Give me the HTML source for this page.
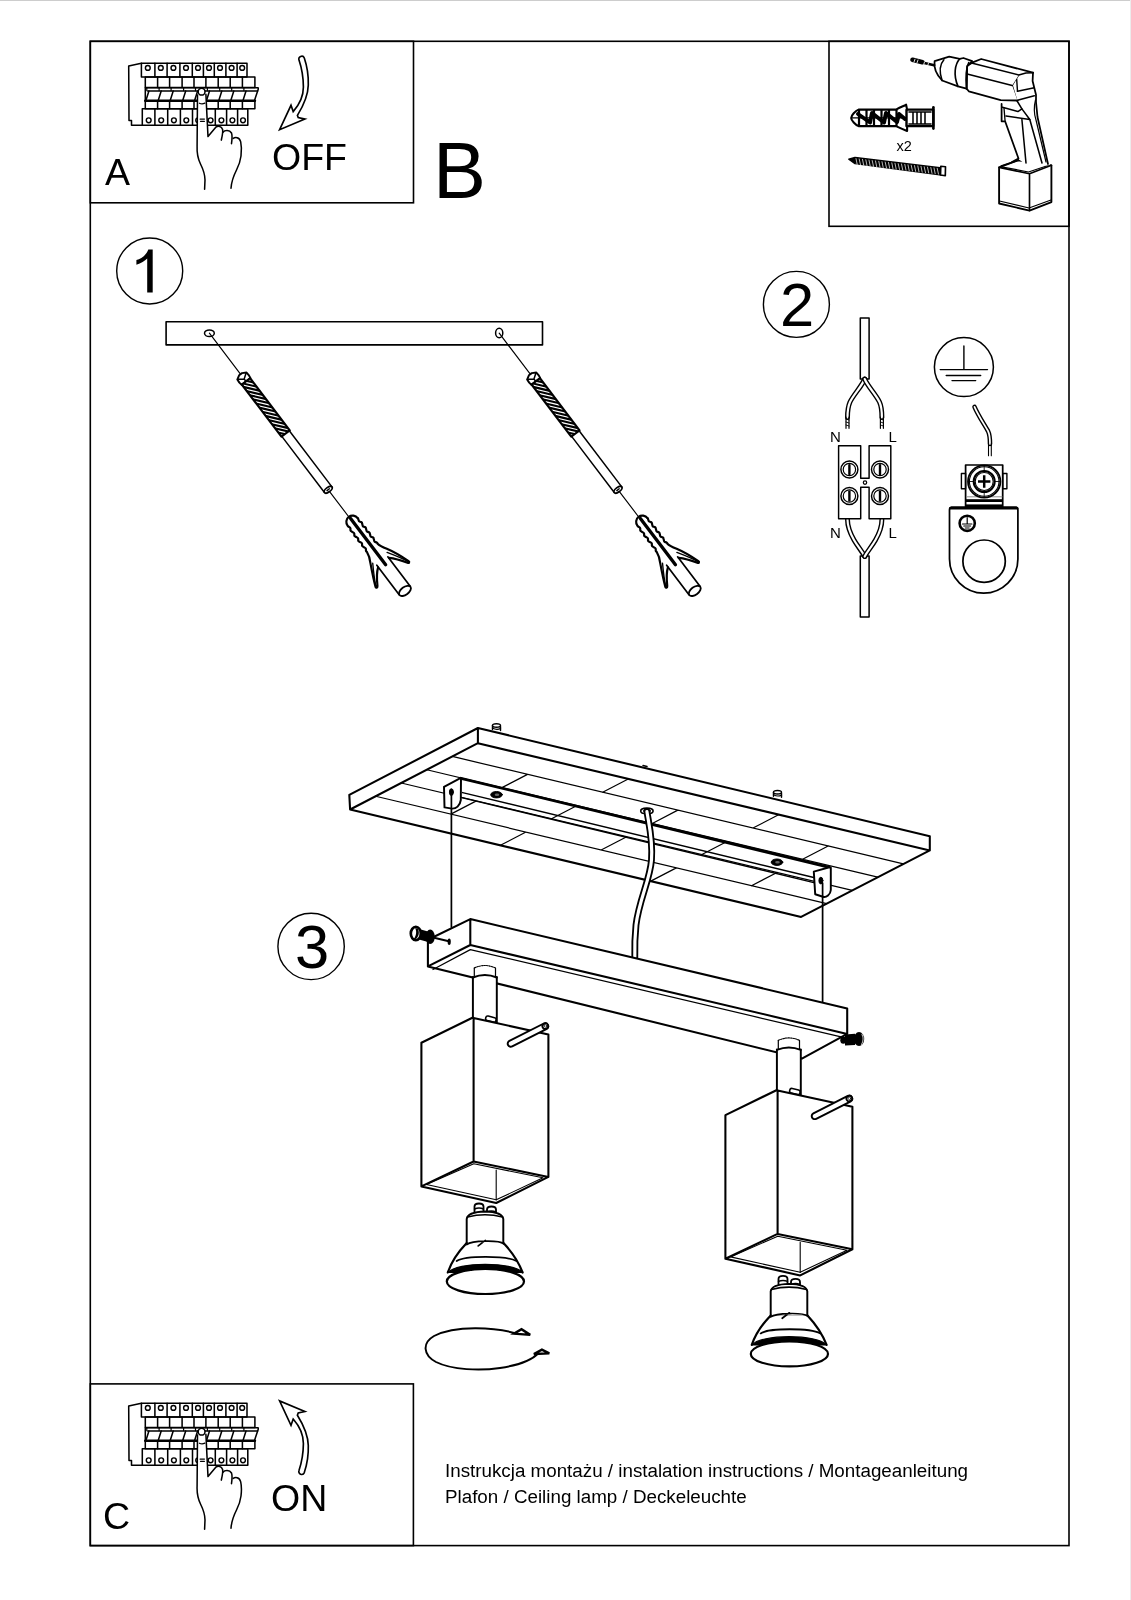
<!DOCTYPE html>
<html><head><meta charset="utf-8">
<style>
html,body{margin:0;padding:0;background:#fff;width:1131px;height:1600px;overflow:hidden}
svg{display:block;position:absolute;left:0;top:0;will-change:transform}
text{font-family:"Liberation Sans",sans-serif;fill:#000}
</style></head><body>
<svg width="1131" height="1600" viewBox="0 0 1131 1600">
<rect x="0" y="0" width="1131" height="1" fill="#cdcdcd"/>
<rect x="1130" y="0" width="1" height="1600" fill="#ececec"/>
<g fill="none" stroke="#000" stroke-width="1.6">
<rect x="90.3" y="41.3" width="978.7" height="1504.3"/>
<rect x="90.3" y="41.3" width="323.2" height="161.5"/>
<rect x="829" y="41.3" width="240" height="185"/>
<rect x="90.3" y="1383.9" width="323.1" height="161.7"/>
</g>
<g fill="none" stroke="#000" stroke-width="1.4">
<circle cx="149.7" cy="271" r="33"/>
<circle cx="796.4" cy="304.4" r="33"/>
<circle cx="311.1" cy="946.4" r="33.2"/>
</g>
<text x="105" y="185.3" font-size="37.5">A</text>
<text x="272" y="170" font-size="37.5">OFF</text>
<text x="433" y="197.5" font-size="79.4">B</text>
<path d="M152.7,249.5 L148.3,249.5 C146.5,255 141,259 136.4,260 L136.4,264.8 C141,263.5 144.8,261 147.2,258.5 L147.2,292.5 L152.7,292.5 Z" fill="#000"/>
<text x="780" y="325.9" font-size="61.5">2</text>
<text x="295" y="968.3" font-size="61.5">3</text>
<text x="103" y="1528.5" font-size="37.5">C</text>
<text x="271" y="1510.7" font-size="37.5">ON</text>
<text x="445" y="1477.2" font-size="18.8">Instrukcja montażu / instalation instructions / Montageanleitung</text>
<text x="445" y="1502.5" font-size="18.8">Plafon / Ceiling lamp / Deckeleuchte</text>
<g id="brk" fill="none" stroke="#000" stroke-width="1.53" stroke-linejoin="round" stroke-linecap="round">
<path d="M141.4,63.3 L128.7,66 L129,120.5 L131.5,120.5 L131.5,125.3 L142.3,125.3"/>
<rect x="141.4" y="63.3" width="105.60" height="13.7" fill="#fff"/>
<path d="M154.9,63.3 L154.9,77"/>
<path d="M167.1,63.3 L167.1,77"/>
<path d="M179.9,63.3 L179.9,77"/>
<path d="M192.3,63.3 L192.3,77"/>
<path d="M203.4,63.3 L203.4,77"/>
<path d="M214.3,63.3 L214.3,77"/>
<path d="M225.9,63.3 L225.9,77"/>
<path d="M237.1,63.3 L237.1,77"/>
<circle cx="147.8" cy="67.9" r="2.4" stroke-width="1.42"/>
<circle cx="160.8" cy="67.9" r="2.4" stroke-width="1.42"/>
<circle cx="173.4" cy="67.9" r="2.4" stroke-width="1.42"/>
<circle cx="186.0" cy="67.9" r="2.4" stroke-width="1.42"/>
<circle cx="198.0" cy="67.9" r="2.4" stroke-width="1.42"/>
<circle cx="209.0" cy="67.9" r="2.4" stroke-width="1.42"/>
<circle cx="220.0" cy="67.9" r="2.4" stroke-width="1.42"/>
<circle cx="231.6" cy="67.9" r="2.4" stroke-width="1.42"/>
<circle cx="242.2" cy="67.9" r="2.4" stroke-width="1.42"/>
<rect x="145.3" y="77" width="109.6" height="10.5"/>
<path d="M157.6,77 L157.6,87.5"/>
<path d="M169.6,77 L169.6,87.5"/>
<path d="M182.1,77 L182.1,87.5"/>
<path d="M194.0,77 L194.0,87.5"/>
<path d="M205.9,77 L205.9,87.5"/>
<path d="M218.2,77 L218.2,87.5"/>
<path d="M230.2,77 L230.2,87.5"/>
<path d="M242.4,77 L242.4,87.5"/>
<path d="M145.3,87.7 L258.1,87.7 L258.3,89 L254.4,100.7 M145.3,87.7 L145.3,100.7"/>
<path d="M147.5,90.9 L257.6,90.9" />
<path d="M145.90,100.5 L148.90,91"/>
<path d="M146.80,88.2 L146.80,90.6" stroke-width="1.18"/>
<path d="M158.20,100.5 L161.20,91"/>
<path d="M159.10,88.2 L159.10,90.6" stroke-width="1.18"/>
<path d="M170.20,100.5 L173.20,91"/>
<path d="M171.10,88.2 L171.10,90.6" stroke-width="1.18"/>
<path d="M182.70,100.5 L185.70,91"/>
<path d="M183.60,88.2 L183.60,90.6" stroke-width="1.18"/>
<path d="M194.60,100.5 L197.60,91"/>
<path d="M195.50,88.2 L195.50,90.6" stroke-width="1.18"/>
<path d="M206.50,100.5 L209.50,91"/>
<path d="M207.40,88.2 L207.40,90.6" stroke-width="1.18"/>
<path d="M218.80,100.5 L221.80,91"/>
<path d="M219.70,88.2 L219.70,90.6" stroke-width="1.18"/>
<path d="M230.80,100.5 L233.80,91"/>
<path d="M231.70,88.2 L231.70,90.6" stroke-width="1.18"/>
<path d="M243.00,100.5 L246.00,91"/>
<path d="M243.90,88.2 L243.90,90.6" stroke-width="1.18"/>
<path d="M145.3,100.8 L254.9,100.8" stroke-width="2.60"/>
<rect x="145.3" y="100.8" width="109.6" height="8"/>
<path d="M157.6,100.8 L157.6,108.8"/>
<path d="M169.6,100.8 L169.6,108.8"/>
<path d="M182.1,100.8 L182.1,108.8"/>
<path d="M194.0,100.8 L194.0,108.8"/>
<path d="M205.9,100.8 L205.9,108.8"/>
<path d="M218.2,100.8 L218.2,108.8"/>
<path d="M230.2,100.8 L230.2,108.8"/>
<path d="M242.4,100.8 L242.4,108.8"/>
<rect x="142.3" y="108.8" width="105.5" height="16.5"/>
<path d="M154.9,108.8 L154.9,125.3"/>
<path d="M167.7,108.8 L167.7,125.3"/>
<path d="M180.4,108.8 L180.4,125.3"/>
<path d="M192.5,108.8 L192.5,125.3"/>
<path d="M203.6,108.8 L203.6,125.3"/>
<path d="M215.3,108.8 L215.3,125.3"/>
<path d="M226.6,108.8 L226.6,125.3"/>
<path d="M237.6,108.8 L237.6,125.3"/>
<circle cx="148.7" cy="120.3" r="2.4" stroke-width="1.42"/>
<circle cx="161.2" cy="120.3" r="2.4" stroke-width="1.42"/>
<circle cx="173.9" cy="120.3" r="2.4" stroke-width="1.42"/>
<circle cx="186.3" cy="120.3" r="2.4" stroke-width="1.42"/>
<circle cx="198.2" cy="120.3" r="2.4" stroke-width="1.42"/>
<circle cx="210.6" cy="120.3" r="2.4" stroke-width="1.42"/>
<circle cx="221.4" cy="120.3" r="2.4" stroke-width="1.42"/>
<circle cx="232.4" cy="120.3" r="2.4" stroke-width="1.42"/>
<circle cx="243.0" cy="120.3" r="2.4" stroke-width="1.42"/>
<path fill="#fff" d="M197.5,95 L197.1,146.3 C196.8,153 197.5,158 200.5,164 C203,169 205,174 205,180 L204.6,189.2 L231,188.3 C231.5,182 233.5,177 236.5,171 C240,164 241.3,158 241.2,150 C241,144 240.5,138 236.5,137.5 C234.5,137.2 233.5,138 233.2,138.4 C232,131 229,130 227.5,130.3 C225,130.6 223.5,131.5 223,132 C222.5,127 220,126 218.5,126.2 C217,126.3 216,127 216,127 L208.0,136.6 L205.9,94.2 Z" stroke="none"/>
<path d="M197.5,95 L197.1,146.3 C196.8,153 197.5,158 200.5,164 C203,169 205,174 205,180 L204.6,189.2"/>
<path d="M205.9,94.2 L208.0,136.6 L216,127 C218,125.8 221.5,125.8 222.6,129.5 C223.2,132 222.2,136 221.3,140.1"/>
<path d="M223,132.2 C224.5,130.2 229.5,129.5 231.5,133 C232.5,135.5 232,140 231.5,143.7"/>
<path d="M233.2,138.4 C235,137 239.5,136.8 240.7,141.9 C241.6,146 241.5,152 241.0,156 C240.3,162 238.5,166 236.5,170 C234,175 231.5,180 231,188.3"/>
<circle cx="201.6" cy="91.7" r="3.4" fill="#fff"/>
<path d="M199.4,103.2 Q202,104.6 204.8,103.2" stroke-width="1.30"/>
<path d="M200.1,119.1 L204.4,119.1 M200.5,121.3 L204.4,121.3" stroke-width="1.30"/>
</g>
<path id="arrOFF" fill="none" stroke="#000" stroke-width="1.65" stroke-linejoin="miter" d="M299,60.1 C301,66 303.3,75 303.4,87 C303.4,97 299,105 293.2,111.6 L291,105.3 L279.6,129.7 L304.9,119.1 L298.2,117.6 L297.4,115.4 C302,108 308,98 308.3,85 C308.6,75 307,66 304.3,58 A2.8,2.8 0 0 0 299,60.1 Z"/>
<use href="#brk" transform="translate(0,1340)"/>
<use href="#arrOFF" transform="translate(0,1530.6) scale(1,-1)"/>
<g fill="none" stroke="#000" stroke-width="1.61" stroke-linejoin="round" stroke-linecap="round">
<rect x="166.1" y="321.8" width="376.4" height="23.1"/>
<ellipse cx="209.4" cy="333.2" rx="4.9" ry="3.3" stroke-width="1.49"/>
<ellipse cx="499.2" cy="333.0" rx="3.6" ry="4.8" stroke-width="1.49"/>
</g>
<g id="scr1" transform="translate(209.4,333.2) rotate(52.8)" fill="none" stroke="#000" stroke-width="1.49" stroke-linejoin="round" stroke-linecap="round">
<path d="M0,0 L53,0" stroke-width="1.15"/>
<path d="M51.5,-1.8 L53.8,-5.8 L57.5,-6.0 L60.5,-5.5 L60.5,5.5 L57.5,6.0 L53.8,5.8 L51.5,1.8 Z" fill="#fff" stroke-width="1.95"/>
<path d="M54,-5 L57.5,0 L54,5 M57.5,0 L60,0" stroke-width="1.49"/>
<path d="M60.5,-5.2 L126,-5.2 L126,5.2 L60.5,5.2 Z" fill="#fff" stroke-width="2.18"/>
<clipPath id="thc"><rect x="60.5" y="-5.2" width="65.5" height="10.4"/></clipPath>
<g clip-path="url(#thc)">
<path d="M52.00,6.2 L67.00,-6.2" stroke-width="2.13"/>
<path d="M57.20,6.2 L72.20,-6.2" stroke-width="2.13"/>
<path d="M62.40,6.2 L77.40,-6.2" stroke-width="2.13"/>
<path d="M67.60,6.2 L82.60,-6.2" stroke-width="2.13"/>
<path d="M72.80,6.2 L87.80,-6.2" stroke-width="2.13"/>
<path d="M78.00,6.2 L93.00,-6.2" stroke-width="2.13"/>
<path d="M83.20,6.2 L98.20,-6.2" stroke-width="2.13"/>
<path d="M88.40,6.2 L103.40,-6.2" stroke-width="2.13"/>
<path d="M93.60,6.2 L108.60,-6.2" stroke-width="2.13"/>
<path d="M98.80,6.2 L113.80,-6.2" stroke-width="2.13"/>
<path d="M104.00,6.2 L119.00,-6.2" stroke-width="2.13"/>
<path d="M109.20,6.2 L124.20,-6.2" stroke-width="2.13"/>
<path d="M114.40,6.2 L129.40,-6.2" stroke-width="2.13"/>
<path d="M119.60,6.2 L134.60,-6.2" stroke-width="2.13"/>
<path d="M124.80,6.2 L139.80,-6.2" stroke-width="2.13"/>
</g>
<path d="M126,-4.7 L196.5,-4.7 M126,4.7 L196.5,4.7"/>
<ellipse cx="196.5" cy="0" rx="2.3" ry="4.7" fill="#fff" stroke-width="1.72"/>
<path d="M196.5,-1.5 L196.5,1.5" stroke-width="1.38"/>
<path d="M198.8,0 L232,0" stroke-width="1.15"/>
<path d="M237,-6.3 C233.5,-6.3 230.5,-3.5 230.5,0 C230.5,3.5 233.5,6.3 237,6.3 C238.5,6.7 239.5,5.0 240.8,5.7 C242.0,6.6 243.0,7.5 243.4,6.7 C244.9,6.7 245.9,5.0 247.2,5.7 C248.4,6.6 249.4,7.5 249.8,6.7 C251.3,6.7 252.3,5.0 253.6,5.7 C254.8,6.6 255.8,7.5 256.2,6.7 C257.7,6.7 258.7,5.0 260.0,5.7 C261.2,6.6 262.2,7.5 262.6,6.7 C264.1,6.7 265.1,5.0 266.4,5.7 C267.6,6.6 268.6,7.5 269.0,6.7 C275,7.5 277,8.5 280,10.5 C287,14 296,18.5 302.5,21 C304,21.5 304.5,20 303,19 C298,16 292,12 288.5,7.2" fill="none" stroke-width="2.18"/>
<path d="M237,-6.3 C238.5,-6.7 239.5,-5.0 240.8,-5.7 C242.0,-6.6 243.0,-7.5 243.4,-6.7 C244.9,-6.7 245.9,-5.0 247.2,-5.7 C248.4,-6.6 249.4,-7.5 249.8,-6.7 C251.3,-6.7 252.3,-5.0 253.6,-5.7 C254.8,-6.6 255.8,-7.5 256.2,-6.7 C257.7,-6.7 258.7,-5.0 260.0,-5.7 C261.2,-6.6 262.2,-7.5 262.6,-6.7 C264.1,-6.7 265.1,-5.0 266.4,-5.7 C267.6,-6.6 268.6,-7.5 269.0,-6.7 C272,-7 275,-8.5 279,-11 C286,-15 295,-18.5 302,-20.8 C303.5,-21.3 304,-19.8 302.7,-19 C297,-15.5 291,-11 287.5,-7.2" fill="none" stroke-width="2.18"/>
<path d="M282,-9 C290,-14 297,-18 301.5,-20" stroke-width="1.38"/>
<path d="M282,9 C290,14 297,18 301.5,20" stroke-width="1.38"/>
<path d="M233,-0.4 L291,-0.4" stroke-width="3.33"/>
<path d="M286,-6.9 L323,-6.9 M286,6.9 L323,6.9" stroke-width="1.72"/>
<ellipse cx="323.5" cy="0" rx="3.8" ry="6.9" fill="#fff" stroke-width="1.84"/>
</g>
<use href="#scr1" transform="translate(289.8,0)"/>
<g fill="none" stroke="#000" stroke-width="1.77" stroke-linejoin="round" stroke-linecap="round">
<path d="M350.10,809.50 L349.30,794.90 L477.90,728.00 L929.80,836.20 L929.80,850.40 L801.10,916.90 L350.10,809.50 L477.90,743.20 L929.80,850.40 M477.90,728.00 L477.90,743.20" stroke-width="2.07"/>
<path d="M375.66,796.24 L826.66,903.64 M401.22,782.98 L852.22,890.38 M426.78,769.72 L877.78,877.12 M452.34,756.46 L903.34,863.86 M500.43,845.30 L525.99,832.04 M650.77,881.10 L676.33,867.84 M450.83,814.14 L476.39,800.88 M601.16,849.94 L626.72,836.68 M751.49,885.74 L777.05,872.48 M551.55,818.78 L577.11,805.52 M701.89,854.58 L727.45,841.32 M501.95,787.62 L527.51,774.36 M652.28,823.42 L677.84,810.16 M802.61,859.22 L828.17,845.96 M602.67,792.26 L628.23,779.00 M753.01,828.06 L778.57,814.80" stroke-width="1.22"/>
<path d="M492.5,729.5 L492.5,725.5 M500.5,730.5 L500.5,726.5" stroke-width="1.46"/>
<ellipse cx="496.5" cy="725.5" rx="4" ry="1.8" fill="#fff" stroke-width="1.46"/>
<path d="M492.5,728.0 Q496.5,730.3 500.5,728.5" stroke-width="1.22"/>
<path d="M773.5,796.2 L773.5,792.2 M781.5,797.2 L781.5,793.2" stroke-width="1.46"/>
<ellipse cx="777.5" cy="792.2" rx="4" ry="1.8" fill="#fff" stroke-width="1.46"/>
<path d="M773.5,794.7 Q777.5,797.0 781.5,795.2" stroke-width="1.22"/>
<path d="M643,765.5 L647,766.5" stroke-width="1.46"/>
<path d="M461,778.3 L829.4,867.3" stroke-width="2.81"/>
<path d="M462.6,792.6 L813.8,877.5 M462.6,797.9 L813.8,882.6" stroke-width="1.46"/>
<path fill="#fff" d="M444,786.8 L459.9,778.3 L461,778.3 L460.8,800 C460,806 456,808.8 452,808.6 L444.5,807.4 Z" stroke-width="1.95"/>
<path fill="#fff" d="M813.8,871.6 L829.4,867.3 L830.8,867.6 L830.8,890 C830.5,895 826,897.5 823.7,897 L815.2,894.2 Z" stroke-width="1.95"/>
<ellipse cx="451.4" cy="792.1" rx="2" ry="3.4" fill="#000" stroke-width="0.98"/>
<ellipse cx="820.9" cy="880.6" rx="2" ry="3.4" fill="#000" stroke-width="0.98"/>
<ellipse cx="496.5" cy="794.7" rx="5.8" ry="3.2" fill="#000" stroke-width="0.98"/>
<ellipse cx="497.0" cy="794.7" rx="2.3" ry="1.2" fill="#666" stroke="none"/>
<ellipse cx="777" cy="862.2" rx="5.8" ry="3.2" fill="#000" stroke-width="0.98"/>
<ellipse cx="777.5" cy="862.2" rx="2.3" ry="1.2" fill="#666" stroke="none"/>
<ellipse cx="646.9" cy="810.9" rx="6.2" ry="2.8" stroke-width="1.59"/>
<ellipse cx="646.9" cy="810.9" rx="3.5" ry="1.5" stroke-width="0.98"/>
<path d="M646.9,811.5 C649,825 653,840 651.5,860 C650,880 639,900 636,925 C635,935 634.5,945 634.8,957" stroke-width="6.83"/>
<path d="M646.9,811.5 C649,825 653,840 651.5,860 C650,880 639,900 636,925 C635,935 634.5,945 634.8,957" stroke="#fff" stroke-width="3.17"/>
<path d="M451.4,794 L451.4,927" stroke-width="1.71"/>
<path d="M822.6,883 L822.6,1001.5" stroke-width="1.71"/>
<path fill="#fff" d="M427.90,939.80 L470.30,919.10 L847.20,1008.40 L847.20,1033.90 L801.90,1058.60 L427.90,966.40 Z" stroke="none"/>
<path d="M427.90,966.40 L427.90,939.80 L470.30,919.10 L847.20,1008.40 L847.20,1033.90 L801.90,1058.60 L427.90,966.40 M470.30,919.10 L470.30,945.00 L847.20,1033.90 M470.30,945.00 L427.90,966.40" stroke-width="2.07"/>
<path d="M433,969.5 L470.3,949.6 L843.2,1037.4" stroke-width="1.22"/>
<path d="M433,937.6 L448.8,941.2" stroke-width="2.07"/>
<ellipse cx="449.2" cy="941.7" rx="1.6" ry="3.2" fill="#000" stroke="none"/>
<ellipse cx="430.2" cy="936.8" rx="4.6" ry="7.2" fill="#000" stroke="none"/>
<path d="M419,929 L428,931.5 L428,942 L419,939.5 Z" fill="#000" stroke="none"/>
<ellipse cx="415.8" cy="933.5" rx="5.0" ry="6.7" fill="#fff" stroke-width="2.68"/>
<path d="M417.5,928.5 C419.5,931 419.5,936 416,938.8 C415,939.5 414,939.6 413.5,939.2 C416.5,936 416.8,931 415.2,928.2" fill="#000" stroke="none"/>
<path d="M413.2,928.5 C410.5,931 410.5,936 413,939" stroke-width="1.22"/>
<ellipse cx="843.3" cy="1040.2" rx="3.0" ry="3.6" fill="#000" stroke="none"/>
<path d="M845,1034.5 L855,1033.8 L855,1045 L845,1045.5 Z" fill="#000" stroke="none"/>
<ellipse cx="859" cy="1039.1" rx="5.2" ry="7.0" fill="#000" stroke="none"/>
<path d="M862,1034.5 C863.5,1037 863.5,1041.5 861.5,1044.5" stroke="#bbb" stroke-width="1.10"/>
</g>
<g id="head" fill="none" stroke="#000" stroke-width="1.77" stroke-linejoin="round" stroke-linecap="round">
<path fill="#fff" d="M472.9,966.3 L472.9,1018 L496.8,1018 L496.8,966.3 Z" stroke="none"/>
<path d="M472.9,977 L472.9,1018.5 M496.8,977 L496.8,1022.5" stroke-width="1.95"/>
<path d="M474.3,977 L474.3,968 M495.5,977 L495.5,968" stroke-width="1.22"/>
<path d="M474.3,968 Q484.9,963 495.5,968" stroke-width="1.10" stroke-dasharray="1.5,1"/>
<path d="M472.9,977.5 Q484.9,972.5 496.8,977.5" stroke-width="1.95"/>
<rect x="485.6" y="1016.8" width="10.5" height="4.6" rx="2" transform="rotate(14 490.8 1019.1)" fill="#fff" stroke-width="1.59"/>
<path fill="#fff" d="M421.40,1042.70 L472.40,1017.80 L548.40,1034.40 L548.40,1176.90 L496.20,1203.00 L421.40,1186.40 Z" stroke="none"/>
<path d="M421.40,1186.40 L421.40,1042.70 L472.40,1017.80 L548.40,1034.40 L548.40,1176.90 L496.20,1203.00 L421.40,1186.40 L473.60,1161.50 L548.40,1176.90 M473.6,1017.8 L473.60,1161.50" stroke-width="2.07"/>
<path d="M426.5,1184.5 L473.8,1163.8 L543,1177.8 L496.2,1199.8 Z" stroke-width="1.10"/>
<path d="M496.2,1170 L496.2,1200" stroke-width="1.10"/>
<path fill="#fff" d="M509.4,1040.9 L543.8,1023.5 A3.1,3.1 0 0 1 546.8,1028.9 L512.2,1046.4 A3,3 0 0 1 509.4,1040.9 Z" stroke-width="1.95"/>
<ellipse cx="545.3" cy="1026.2" rx="2.9" ry="2.6" transform="rotate(-27 545.3 1026.2)" fill="#fff" stroke-width="1.83"/>
<ellipse cx="545.5" cy="1026.0" rx="1.3" ry="1.2" fill="none" stroke-width="0.73"/>
<path fill="#fff" d="M474.5,1212 L474.5,1206.5 Q474.5,1203.5 479,1203.5 Q483.5,1203.5 483.5,1206.5 L483.5,1212" stroke-width="1.83"/>
<path d="M474.5,1209.0 Q479,1207.0 483.5,1209.0" stroke-width="1.46"/>
<path fill="#fff" d="M487.0,1214 L487.0,1209.5 Q487.0,1206.5 491.5,1206.5 Q496.0,1206.5 496.0,1209.5 L496.0,1214" stroke-width="1.83"/>
<path d="M487.0,1212.0 Q491.5,1210.0 496.0,1212.0" stroke-width="1.46"/>
<path fill="#fff" d="M466.7,1244 L466.7,1219 Q467.5,1212 485,1211.5 Q502.5,1212 503.3,1219 L503.3,1244 Z" stroke-width="1.95"/>
<path d="M467.5,1217 Q485,1212.5 502.5,1217" stroke-width="1.59"/>
<path fill="#fff" d="M466.7,1243 C462,1250 452,1265 446.8,1275 L523.8,1275 C518,1265 508,1250 503.5,1243 Z" stroke="none"/>
<path d="M466.7,1243 C459,1251 451,1263 447.8,1272.5 M503.5,1243 C511,1251 519,1263 522.6,1272.5" stroke-width="2.20"/>
<path d="M466.7,1244.5 C472,1240.5 499,1239.8 503.7,1243.8 M478.2,1245.9 L485.4,1240.4" stroke-width="1.71"/>
<path d="M456.7,1261 C465,1255.5 506,1255.5 516.4,1261" stroke-width="1.83"/>
<path d="M448.5,1272.5 C456,1261.6 514,1261.6 522.5,1272.5 Z" fill="#000" stroke-width="1.22"/>
<ellipse cx="485.4" cy="1281.5" rx="38.6" ry="12.5" fill="#fff" stroke-width="2.20"/>
</g>
<use href="#head" transform="translate(304,72.4)"/>
<g fill="none" stroke="#000" stroke-width="1.95" stroke-linejoin="miter">
<path d="M516,1333.5 C495,1327 455,1325 434,1336 C422,1343 423,1355 436,1362 C452,1370 480,1371 500,1368 C520,1365 532,1360 538,1353.5"/>
<path d="M514.1,1333.6 L521.5,1329.3 L530.2,1334.9 Z" fill="#fff" stroke-width="2.44"/>
<path d="M533.9,1354 L541.9,1349.7 L549.3,1353.4 Z" fill="#fff" stroke-width="2.44"/>
</g>
<g fill="none" stroke="#000" stroke-width="1.51" stroke-linejoin="round" stroke-linecap="round">
<rect x="860.3" y="317.9" width="8.8" height="61" fill="#fff"/>
<rect x="860.3" y="556.1" width="8.8" height="61" fill="#fff"/>
<path d="M864.7,379 C862,386 854,394 850,402 C847.8,407 847.5,412 847.5,417.5" stroke-width="4.97"/><path d="M864.7,379 C862,386 854,394 850,402 C847.8,407 847.5,412 847.5,417.5" stroke="#fff" stroke-width="2.16"/>
<path d="M864.7,379 C867.5,386 875.5,394 879.5,402 C881.8,407 881.9,412 881.9,417.5" stroke-width="4.97"/><path d="M864.7,379 C867.5,386 875.5,394 879.5,402 C881.8,407 881.9,412 881.9,417.5" stroke="#fff" stroke-width="2.16"/>
<path d="M846,417 L846,428.3 M849,417 L849,428.3 M880.4,417 L880.4,428.3 M883.4,417 L883.4,428.3" stroke-width="1.19"/>
<path d="M846,419 L849,420 M846,422 L849,423 M846,425 L849,426 M880.4,419 L883.4,420 M880.4,422 L883.4,423 M880.4,425 L883.4,426" stroke-width="0.86"/>
<path d="M847.5,519.5 C847.5,527 850,533 854,540 C858,547 862,551 864.7,556.5" stroke-width="4.97"/><path d="M847.5,519.5 C847.5,527 850,533 854,540 C858,547 862,551 864.7,556.5" stroke="#fff" stroke-width="2.16"/>
<path d="M881.9,519.5 C881.9,527 879.5,533 875.5,540 C871.5,547 867.5,551 864.7,556.5" stroke-width="4.97"/><path d="M881.9,519.5 C881.9,527 879.5,533 875.5,540 C871.5,547 867.5,551 864.7,556.5" stroke="#fff" stroke-width="2.16"/>
<path fill="#fff" d="M838.6,445.8 L860.7,445.8 L860.7,478.3 L869.1,478.3 L869.1,445.8 L890.8,445.8 L890.8,518.7 L869.1,518.7 L869.1,487.2 L860.7,487.2 L860.7,518.7 L838.6,518.7 Z" stroke-width="1.46"/>
<circle cx="865" cy="482.6" r="1.7" stroke-width="1.19"/>
<circle cx="849.4" cy="469.5" r="8.5" stroke-width="1.46"/>
<circle cx="849.4" cy="469.5" r="6.2" stroke-width="1.19"/>
<path d="M849.4,465.1 L849.4,473.9" stroke-width="2.38" stroke-linecap="round"/>
<circle cx="880" cy="469.5" r="8.5" stroke-width="1.46"/>
<circle cx="880" cy="469.5" r="6.2" stroke-width="1.19"/>
<path d="M880,465.1 L880,473.9" stroke-width="2.38" stroke-linecap="round"/>
<circle cx="849.4" cy="496" r="8.5" stroke-width="1.46"/>
<circle cx="849.4" cy="496" r="6.2" stroke-width="1.19"/>
<path d="M849.4,491.6 L849.4,500.4" stroke-width="2.38" stroke-linecap="round"/>
<circle cx="880" cy="496" r="8.5" stroke-width="1.46"/>
<circle cx="880" cy="496" r="6.2" stroke-width="1.19"/>
<path d="M880,491.6 L880,500.4" stroke-width="2.38" stroke-linecap="round"/>
</g>
<g font-size="15">
<text x="830" y="441.6">N</text><text x="888.5" y="441.6">L</text>
<text x="830" y="537.8">N</text><text x="888.5" y="537.8">L</text>
</g>
<g fill="none" stroke="#000" stroke-width="1.51" stroke-linejoin="round" stroke-linecap="round">
<circle cx="963.9" cy="367.1" r="29.5"/>
<path d="M963.9,346 L963.9,369.6 M940.2,369.6 L987.5,369.6 M946.2,375.5 L980.7,375.5 M952,380.6 L975.7,380.6" stroke-width="1.40"/>
<path d="M974.5,406.8 C978,415 984,424 988,431 C990,435 990,440 990,444" stroke-width="4.54"/><path d="M974.5,406.8 C978,415 984,424 988,431 C990,435 990,440 990,444" stroke="#fff" stroke-width="1.73"/>
<path d="M988.5,443.5 L988.5,455.7 M991.3,443.5 L991.3,455.7" stroke-width="1.08"/>
<rect x="965.6" y="465" width="37.1" height="42" fill="#fff" stroke-width="1.73"/>
<rect x="961.4" y="473.5" width="4.2" height="15.2" stroke-width="1.40"/>
<rect x="1002.7" y="473.5" width="4.2" height="15.2" stroke-width="1.40"/>
<rect x="965.6" y="499.2" width="37.1" height="2.8" fill="#000" stroke="none"/>
<rect x="965.6" y="504.4" width="37.1" height="3.0" fill="#000" stroke="none"/>
<path d="M966.5,496.8 L1002,496.8" stroke="#888" stroke-width="0.97"/>
<circle cx="984.2" cy="481.5" r="16.2" fill="#fff" stroke-width="1.84"/>
<circle cx="984.2" cy="481.5" r="14.8" stroke-width="1.08"/>
<path d="M968.5,481.5 L1000,481.5 M984.2,465.8 L984.2,497.2" stroke-width="0.86"/>
<circle cx="984.2" cy="481.5" r="10.5" fill="#fff" stroke-width="2.05"/>
<circle cx="984.2" cy="481.5" r="9.0" stroke-width="1.08"/>
<path d="M984.2,475.3 L984.2,487.7 M978,481.5 L990.4,481.5" stroke-width="2.48" stroke-linecap="butt"/>
<path fill="#fff" d="M951.5,507.2 L1016,507.2 Q1017.9,507.5 1017.9,510 L1017.9,559 A34.2,34.2 0 0 1 949.5,559 L949.5,510 Q949.5,507.5 951.5,507.2 Z" stroke-width="1.73"/>
<path d="M950.5,508.2 L1017,508.2" stroke-width="2.59"/>
<circle cx="984.1" cy="561.2" r="21.2" stroke-width="1.73"/>
<circle cx="967.2" cy="523.3" r="7.6" stroke-width="2.59"/>
<path d="M967.2,517.5 L967.2,524 M962.5,524 L971.9,524 M963.8,526 L970.6,526 M965.2,528 L969.2,528" stroke-width="1.19"/>
</g>
<g fill="none" stroke="#000" stroke-width="1.59" stroke-linejoin="round" stroke-linecap="round">
<path fill="#fff" d="M999.1,167.4 L1018.2,160.3 L1051.4,165.3 L1051.4,202.1 L1029.5,210.6 L999.1,203.5 Z" stroke-width="1.87"/>
<path d="M999.1,167.4 L1029.5,173.8 L1051.4,165.3 M1029.5,173.8 L1029.5,210.6" stroke-width="1.65"/>
<path d="M1001.5,166.8 L1028.5,172 L1049.5,165 M999.5,201 L1029,208 L1051,200" stroke-width="1.21"/>
<path d="M1001.2,166 L1018.2,160.3 L1019,155.5" stroke-width="1.54"/>
<path fill="#fff" d="M1000.7,100.1 L1001.6,121.3 L1005.1,121.3 L1018.5,159 L1030,168 L1050,165 L1048.5,160 L1040,112 L1034.3,87.7 L1033,72.7 L981.2,59 Z" stroke="none"/>
<path d="M1001.6,104 L1001.6,121.3 L1005.1,121.3 L1018.5,158.5 L1012,162" stroke-width="1.76"/>
<path d="M1005.1,121.3 L1004,108" stroke-width="1.32"/>
<path d="M1002.4,107.2 L1017.9,111.6 L1021.9,108.9 L1029.8,119.5 L1006,116" stroke-width="1.54"/>
<path d="M1021.9,119.5 L1026,163 M1029.8,119.5 L1042,163" stroke-width="1.54"/>
<path d="M1012.2,85.5 L1016.5,100 L1021.9,108.9 M1017.5,91.3 L1034.3,87.7 M1018.4,100.1 L1034.3,95.7" stroke-width="1.54"/>
<path d="M1033,72.7 L1032.6,81 L1036,94.7 L1036,102 L1037.5,117 L1048,164" stroke-width="1.76"/>
<path d="M1035.5,100 C1034,106 1034,114 1036,120 L1046,162" stroke-width="1.21"/>
<path d="M1012.2,85.5 L1016.6,78 L1018.8,74.9 M1016.6,78 L1017.5,91.3" stroke-width="1.43"/>
<path fill="#fff" d="M967.1,66.1 L973.3,62.1 L981.2,59 L1033,72.7 L1018.8,74.9 L1012.2,85.5 L1017.5,100.5 L1000.7,100.1 L968.8,91.3 L966.6,88.6 Z" stroke="none"/>
<path d="M967.1,66.1 L973.3,62.1 L981.2,59 L1033,72.7" stroke-width="1.76"/>
<path d="M971.5,63 L1018.8,74.9 L1025.9,73.1 L1033,72.7" stroke-width="1.54"/>
<path d="M967.1,74 L1012.2,85.5" stroke-width="1.65"/>
<path d="M967.1,66.1 L966.6,88.6 L968.8,91.3 L1000.7,100.1 L1017.5,100.5" stroke-width="1.76"/>
<path fill="#fff" d="M934.6,61.1 L949.2,56.6 L959.8,58.8 L963.4,58 L972.2,61.1 L967.1,66.1 L966.6,88.6 L958,86.3 L942.1,80.5 C936,74 933.5,68 934.6,61.1 Z" stroke-width="1.76"/>
<path d="M943.9,59.7 C940,64 938.5,70 942.1,80.5" stroke-width="1.54"/>
<path d="M959.8,58.8 C955,64 953,75 958,86.3" stroke-width="1.65"/>
<path d="M968.7,62.5 C966,68 965.5,78 966.5,88.9" stroke-width="1.54"/>
<path d="M912.5,59.8 L922.5,62.2" stroke-width="4.62"/>
<path d="M921,62.2 L934.2,65.3" stroke-width="2.64"/>
<path d="M915,59.2 L914,62 M918,60 L917,62.8 M924.5,62 L923.8,64.2 M928.5,63 L927.8,65.2" stroke="#fff" stroke-width="0.88"/>
<path fill="#fff" d="M858.5,109.6 L896,109.6 C900,107.5 903.5,106 906.1,104.7 L907.1,109.6 L933.4,109.6 L933.4,126.1 L907.1,126.1 L907.1,131 C903.5,129.5 900,128 896,126.1 L858.5,126.1 C855.5,125 851.2,120.5 851.2,117.9 C851.2,115.3 855.5,110.8 858.5,109.6 Z" stroke-width="2.09"/>
<path d="M933.4,107.2 L933.4,128.6" stroke-width="2.64"/>
<path d="M906.5,110 L906.5,126" stroke-width="2.42"/>
<path d="M851.5,117.9 L906,117.9" stroke-width="1.43"/>
<path d="M859,110 L859,126 M866.5,110 L866.5,126 M874,110 L874,126 M881.5,110 L881.5,126 M889,110 L889,126 M896.5,110 L896.5,126" stroke-width="2.20"/>
<path d="M858,114 L870,122.5 L872,113 L884,122.5 L886,113 L897,122 L899,114 L905,119" stroke-width="3.96"/>
<path d="M909,112 L931,112 M909,124 L931,124 M913,112 L913,124 M917,112 L917,124 M921,112 L921,124 M925,112 L925,124" stroke-width="1.54"/>
<path fill="#000" d="M848.8,159.2 L855,157.5 L942,168 L941.5,175 L855,163.6 Z" stroke-width="1.43"/>
<path fill="#fff" d="M940.8,166.3 L945.5,166.8 L945.3,175.7 L940.5,175 Z" stroke-width="1.65"/>
<path d="M856.0,158.60 L857.2,164.40 M859.2,158.99 L860.5,164.79 M862.5,159.38 L863.7,165.18 M865.8,159.77 L867.0,165.57 M869.0,160.15 L870.2,165.95 M872.2,160.54 L873.5,166.34 M875.5,160.93 L876.7,166.73 M878.8,161.32 L880.0,167.12 M882.0,161.71 L883.2,167.51 M885.2,162.10 L886.5,167.90 M888.5,162.48 L889.7,168.28 M891.8,162.87 L893.0,168.67 M895.0,163.26 L896.2,169.06 M898.2,163.65 L899.5,169.45 M901.5,164.04 L902.7,169.84 M904.8,164.43 L906.0,170.23 M908.0,164.81 L909.2,170.61 M911.2,165.20 L912.5,171.00 M914.5,165.59 L915.7,171.39 M917.8,165.98 L919.0,171.78 M921.0,166.37 L922.2,172.17 M924.2,166.76 L925.5,172.56 M927.5,167.14 L928.7,172.94 M930.8,167.53 L932.0,173.33 M934.0,167.92 L935.2,173.72 M937.2,168.31 L938.5,174.11" stroke="#fff" stroke-width="0.72"/>
</g>
<text x="896.5" y="150.6" font-size="14.5">x2</text>
</svg>
</body></html>
